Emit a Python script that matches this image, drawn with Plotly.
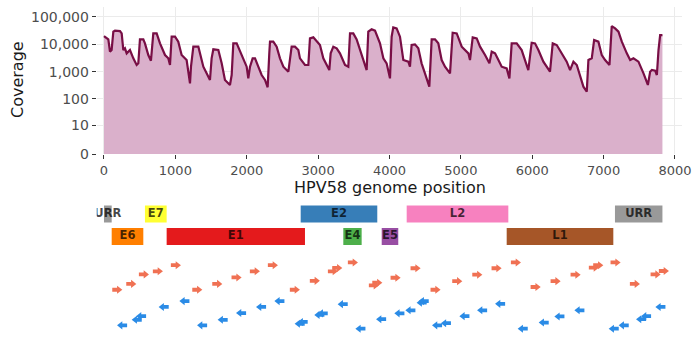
import plotly.graph_objects as go

# ---------------- data ----------------
cov_pos = [0, 61, 84, 107, 131, 154, 224, 248, 271, 294, 318, 364, 411, 458, 481, 504, 551, 574, 621, 658,
           691, 738, 785, 855, 901, 925, 948, 995, 1041, 1088, 1158, 1205, 1219, 1252, 1322, 1345, 1392, 1438,
           1485, 1508, 1532, 1602, 1649, 1695, 1765, 1789, 1812, 1859, 1929, 1999, 2022, 2046, 2083, 2116, 2162,
           2209, 2256, 2293, 2316, 2326, 2372, 2419, 2466, 2513, 2583, 2629, 2676, 2723, 2746, 2816, 2863, 2886,
           2933, 3026, 3073, 3157, 3176, 3213, 3260, 3306, 3377, 3423, 3447, 3493, 3540, 3610, 3680, 3703, 3750,
           3797, 3867, 3914, 3960, 4007, 4030, 4053, 4100, 4147, 4194, 4264, 4287, 4310, 4357, 4404, 4450, 4497,
           4558, 4591, 4638, 4684, 4731, 4778, 4848, 4885, 4942, 5012, 5105, 5128, 5166, 5222, 5269, 5339, 5400,
           5432, 5479, 5526, 5572, 5642, 5680, 5712, 5782, 5852, 5899, 5945, 5992, 6039, 6086, 6156, 6249, 6287,
           6343, 6413, 6483, 6530, 6577, 6624, 6670, 6717, 6764, 6787, 6834, 6867, 6927, 6974, 7021, 7082, 7114,
           7161, 7208, 7255, 7325, 7372, 7418, 7488, 7559, 7620, 7652, 7676, 7722, 7746, 7769, 7792, 7824]
cov_val = [19800, 14960, 5320, 6110, 28440, 30900, 30060, 24720, 6110, 7030, 4620, 6110, 3040, 1740, 2000, 14960,
           14960, 10690, 4020, 2500, 24720, 24720, 10690, 4020, 3040, 1740, 18700, 18700, 12300, 4020, 2640, 374,
           1510, 8090, 8090, 4620, 1510, 865, 494, 3040, 6470, 6110, 2000, 494, 325, 751, 10690, 10690, 4020, 1510,
           568, 1510, 3040, 3040, 1510, 751, 494, 267, 4620, 12300, 12300, 8090, 3040, 1510, 994, 8090, 8090, 6110,
           3040, 1740, 1740, 16260, 17700, 9290, 3040, 1140, 4620, 8090, 7030, 4620, 1740, 1510, 24720, 24720,
           14960, 4020, 1140, 28440, 34590, 30900, 10690, 3040, 2000, 568, 18700, 40900, 37580, 18700, 2640, 2300,
           1510, 9290, 9840, 7030, 2000, 865, 282, 14960, 14960, 10690, 2640, 1510, 865, 26140, 24720, 8090, 4620,
           2640, 17700, 16260, 8090, 4020, 2000, 5320, 4620, 2640, 1510, 1310, 568, 10690, 10690, 6110, 2640, 1140,
           11300, 10690, 6110, 2300, 994, 10690, 9290, 4620, 2300, 1140, 2300, 1740, 751, 282, 185, 2640, 3040,
           14130, 12300, 4020, 2640, 1740, 45710, 37580, 28440, 12300, 4620, 2640, 3040, 2300, 865, 325, 994, 1140,
           1080, 751, 6110, 21500, 21500]

x_ticks = [0, 1000, 2000, 3000, 4000, 5000, 6000, 7000, 8000]
y_tick_vals = [0, 10, 100, 1000, 10000, 100000]
y_tick_text = ["0", "10", "100", "1,000", "10,000", "100,000"]

gene_names = ["URR", "E6", "E7", "E1", "E2", "E4", "E5", "L2", "L1", "URR"]
gene_start = [0, 108, 574, 878, 2756, 3353, 3891, 4241, 5642, 7159]
gene_end = [108, 551, 878, 2816, 3829, 3610, 4123, 5665, 7136, 7824]
gene_row = [2, 1, 2, 1, 2, 1, 1, 2, 1, 2]
gene_colors = ["#999999", "#FF7F00", "#FFFF33", "#E41A1C", "#377EB8", "#4DAF4A", "#984EA3",
               "#F781BF", "#A65628", "#999999"]

fwd_pos = [178, 374, 551, 747, 999, 1299, 1579, 1849, 2106, 2358, 2666, 2946, 3199, 3260, 3479, 3773, 3821,
           4077, 4357, 4637, 4941, 5222, 5492, 5763, 6039, 6319, 6599, 6855, 6917, 7159, 7430, 7720, 7836]
fwd_row = [13.7, 15.6, 18.7, 19.7, 21.7, 13.7, 15.6, 17.7, 19.7, 21.7, 13.7, 16.6, 19.7, 20.8, 22.6, 15.1, 16.0,
           17.6, 20.7, 13.7, 16.5, 18.6, 20.7, 22.6, 14.6, 16.5, 18.6, 20.9, 21.7, 22.6, 15.6, 18.7, 19.8]
rev_pos = [262, 467, 528, 845, 1135, 1383, 1671, 1929, 2209, 2466, 2750, 2792, 3026, 3073, 3353, 3601, 3891,
           4147, 4301, 4459, 4488, 4675, 4799, 5058, 5306, 5558, 5875, 6169, 6389, 6669, 7150, 7290, 7533,
           7603, 7804]
rev_row = [2.1, 3.9, 5.1, 8.1, 10.0, 2.1, 3.9, 6.1, 8.1, 10.0, 2.6, 3.2, 5.5, 6.0, 9.0, 1.0, 4.1,
           6.0, 7.0, 9.5, 10.0, 2.1, 2.8, 5.1, 7.0, 9.1, 1.0, 3.0, 5.0, 7.0, 1.0, 2.1, 4.1, 5.1, 8.1]

# ---------------- figure ----------------
W, H = 694, 338
FONT = "DejaVu Sans"
def py(px):
    return 1 - px / H

x_dom = [96.7 / W, 681.7 / W]
x_range = [-102, 8094]

fig = go.Figure()

# coverage baseline (value 0) and area
fig.add_trace(go.Scatter(x=[cov_pos[0], cov_pos[-1]], y=[1, 1], mode="lines",
                         line=dict(width=0, color="rgba(0,0,0,0)"), hoverinfo="skip",
                         xaxis="x", yaxis="y"))
fig.add_trace(go.Scatter(x=cov_pos, y=[v + 1 for v in cov_val], mode="lines", fill="tonexty",
                         fillcolor="#DAB0CB", line=dict(color="#780E45", width=2.2),
                         xaxis="x", yaxis="y"))

# gene bars
fig.add_trace(go.Bar(orientation="h", y=gene_row, base=gene_start,
                     x=[e - s for s, e in zip(gene_start, gene_end)], width=0.756,
                     marker=dict(color=gene_colors, line=dict(width=0)),
                     xaxis="x2", yaxis="y2"))
fig.add_trace(go.Scatter(x=[(s + e) / 2 for s, e in zip(gene_start, gene_end)], y=gene_row,
                         mode="text", text=gene_names, cliponaxis=True,
                         textfont=dict(family=FONT, size=11.5, color="rgba(0,0,0,0.72)", weight="bold"),
                         xaxis="x2", yaxis="y2"))

# primer arrows
ORANGE = "#F07153"
BLUE = "#2A8BE6"
fx, fy = [], []
for p, r in zip(fwd_pos, fwd_row):
    fx += [p - 62, p + 14, None]
    fy += [r, r, None]
rx, ry = [], []
for p, r in zip(rev_pos, rev_row):
    rx += [p - 14, p + 62, None]
    ry += [r, r, None]
fig.add_trace(go.Scatter(x=fx, y=fy, mode="lines", line=dict(color=ORANGE, width=3.8),
                         xaxis="x3", yaxis="y3"))
fig.add_trace(go.Scatter(x=[p + 30 for p in fwd_pos], y=fwd_row, mode="markers",
                         marker=dict(symbol="triangle-right", size=7, color=ORANGE),
                         xaxis="x3", yaxis="y3"))
fig.add_trace(go.Scatter(x=rx, y=ry, mode="lines", line=dict(color=BLUE, width=3.8),
                         xaxis="x3", yaxis="y3"))
fig.add_trace(go.Scatter(x=[p - 30 for p in rev_pos], y=rev_row, mode="markers",
                         marker=dict(symbol="triangle-left", size=7, color=BLUE),
                         xaxis="x3", yaxis="y3"))

hidden = dict(visible=False, showgrid=False, zeroline=False, fixedrange=True, automargin=False)

fig.update_layout(
    width=W, height=H, margin=dict(l=0, r=0, t=0, b=0, autoexpand=False),
    paper_bgcolor="white", plot_bgcolor="white", showlegend=False,
    font=dict(family=FONT, color="#4D4D4D"),
    xaxis=dict(domain=x_dom, range=x_range, tickvals=x_ticks, ticks="outside", ticklen=4,
               tickwidth=1.3, tickcolor="#333333", showgrid=True, gridcolor="#EBEBEB", gridwidth=1,
               zeroline=False, showline=False, anchor="y", automargin=False,
               tickfont=dict(family=FONT, size=13, color="#4D4D4D")),
    yaxis=dict(domain=[py(154), py(7)], type="log", range=[0, 5.353],
               tickvals=[v + 1 for v in y_tick_vals], ticktext=y_tick_text,
               ticks="outside", ticklen=4, tickwidth=1.3, tickcolor="#333333",
               showgrid=True, gridcolor="#EBEBEB", gridwidth=1, zeroline=False, showline=False,
               anchor="x", automargin=False, tickfont=dict(family=FONT, size=14, color="#4D4D4D")),
    xaxis2=dict(domain=x_dom, range=x_range, anchor="y2", **hidden),
    yaxis2=dict(domain=[py(250), py(200)], range=[0.4, 2.622], anchor="x2", **hidden),
    xaxis3=dict(domain=x_dom, range=x_range, anchor="y3", **hidden),
    yaxis3=dict(domain=[py(334), py(258)], range=[-0.72, 24.04], anchor="x3", **hidden),
    annotations=[
        dict(text="Coverage", x=17 / W, y=py(80), xref="paper", yref="paper", showarrow=False,
             textangle=-90, xanchor="center", yanchor="middle",
             font=dict(family=FONT, size=16, color="#1A1A1A")),
        dict(text="HPV58 genome position", x=390 / W, y=py(187), xref="paper", yref="paper",
             showarrow=False, xanchor="center", yanchor="middle",
             font=dict(family=FONT, size=16, color="#1A1A1A")),
    ],
)

fig.write_html("out.html", config={"displayModeBar": False},
               post_script="document.body.style.margin='0';document.body.style.overflow='hidden';")
